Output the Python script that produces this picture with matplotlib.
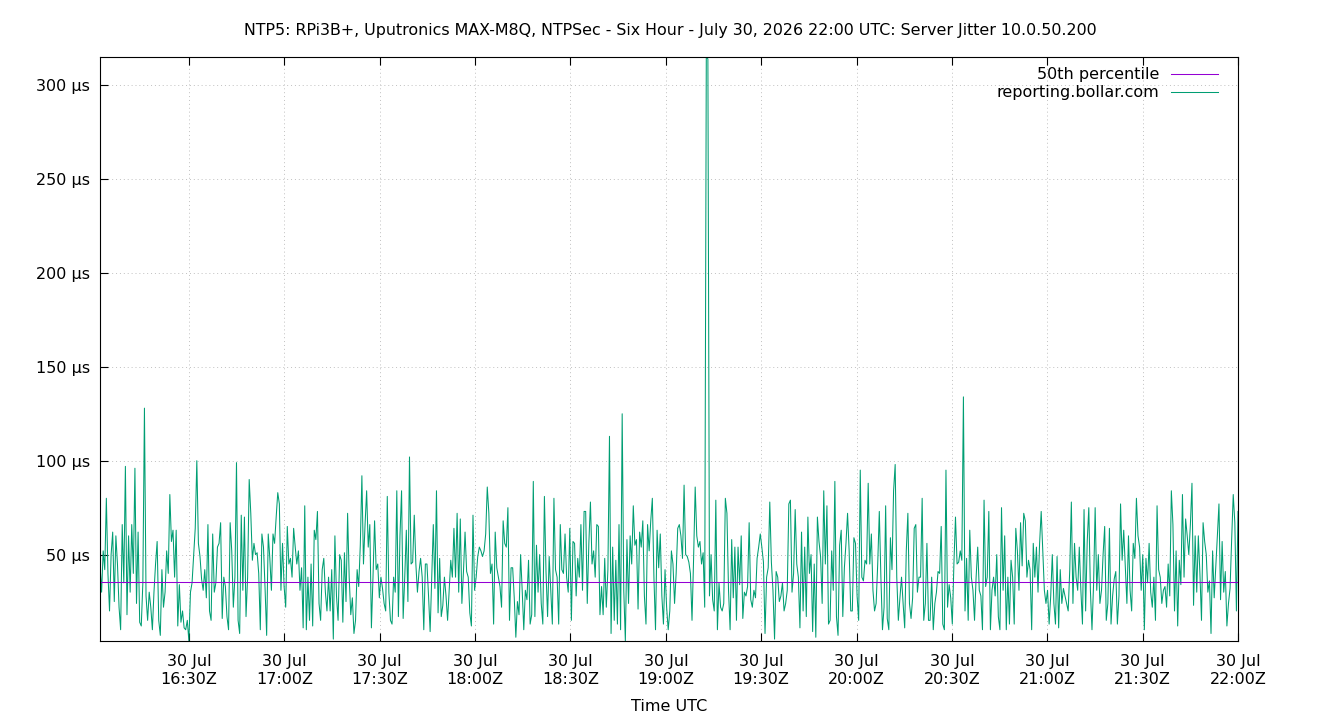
import numpy as np
import pandas as pd
import matplotlib
matplotlib.use("Agg")
import matplotlib.pyplot as plt
import matplotlib.dates as mdates

# server jitter samples (µs), 16:02Z .. 22:00Z
jitter_us = [
    45, 30, 52, 42, 80, 40, 20, 50, 62, 25, 60, 45, 22, 10, 66, 35, 97, 18, 60, 30,
    66, 40, 96, 24, 62, 14, 12, 35, 128, 28, 15, 30, 22, 10, 30, 45, 57, 15, 7, 42,
    22, 30, 52, 40, 82, 57, 63, 38, 63, 12, 34, 14, 20, 11, 10, 15, 4, 30, 35, 50,
    64, 100,
    56, 49, 37, 31, 42, 27, 66, 20, 15, 61, 30, 35, 54, 56, 67, 16, 38, 33, 17, 10,
    67, 52, 22, 38, 99, 15, 8, 71, 31, 70, 17, 38, 90, 72, 47, 56, 50, 51, 40, 10,
    61, 54, 32, 7, 61, 48, 31, 61, 56, 70, 83, 77, 31, 56, 33, 22, 65, 45, 48, 38,
    64,
    54, 45, 52, 31, 43, 11, 76, 10, 38, 15, 45, 12, 63, 58, 73, 24, 15, 42, 48, 30,
    20, 38, 20, 42, 5, 60, 28, 15, 50, 47, 14, 51, 25, 72, 38, 18, 27, 8, 15, 42,
    33, 55, 92, 45, 66, 84, 54, 66, 11, 38, 68, 42, 45, 27, 38, 32, 24, 20, 81, 30,
    15,
    13, 38, 30, 84, 17, 60, 84, 16, 38, 63, 25, 102, 45, 46, 71, 45, 30, 41, 48, 38,
    10, 45, 45, 28, 9, 38, 66, 32, 84, 19, 48, 17, 23, 38, 28, 15, 31, 47, 38, 64,
    38, 72, 30, 69, 24, 41, 62, 41, 38, 19, 12, 71, 31, 38, 49, 54, 52, 49, 52, 61,
    86,
    72, 40, 45, 13, 62, 43, 38, 33, 22, 68, 56, 54, 75, 15, 43, 43, 27, 6, 25, 18,
    50, 31, 10, 31, 26, 47, 13, 18, 89, 17, 55, 30, 50, 24, 13, 81, 41, 17, 49, 31,
    13, 80, 42, 38, 13, 66, 42, 40, 61, 38, 30, 64, 15, 57, 56, 28, 48, 38, 66, 31,
    73,
    73, 24, 56, 78, 45, 52, 38, 66, 65, 18, 33, 18, 48, 22, 42, 113, 8, 54, 15, 47,
    13, 66, 10, 125, 31, 4, 58, 24, 60, 45, 76, 55, 58, 21, 62, 54, 68, 28, 13, 66,
    52, 68, 80, 38, 10, 63, 43, 61, 28, 13, 42, 22, 10, 20, 52, 45, 24, 40, 64, 66,
    60,
    48, 87, 50, 49, 46, 40, 15, 48, 86, 60, 54, 57, 45, 51, 22, 315, 314, 28, 50, 26,
    20, 79, 10, 35, 22, 20, 24, 80, 72, 31, 10, 58, 27, 54, 15, 54, 34, 60, 16, 30,
    28, 33, 67, 26, 22, 31, 27, 48, 54, 61, 54, 46, 8, 38, 43, 78, 46, 31, 5, 41,
    38,
    25, 28, 35, 20, 24, 31, 77, 79, 30, 40, 74, 45, 38, 11, 62, 20, 54, 17, 70, 40,
    50, 9, 45, 6, 70, 57, 49, 24, 84, 45, 76, 13, 15, 52, 31, 89, 17, 7, 55, 63,
    17, 43, 56, 72, 52, 20, 20, 59, 56, 28, 15, 95, 38, 36, 47, 45, 88, 45, 61, 31,
    20,
    24, 45, 73, 38, 10, 22, 76, 16, 10, 59, 42, 84, 98, 38, 15, 27, 38, 24, 11, 52,
    72, 24, 16, 27, 64, 66, 30, 38, 38, 80, 15, 24, 56, 15, 15, 38, 10, 24, 30, 41,
    40, 65, 13, 10, 95, 22, 34, 27, 13, 45, 70, 45, 46, 52, 47, 134, 20, 48, 15, 63,
    38,
    31, 15, 38, 54, 31, 28, 10, 79, 33, 38, 73, 10, 31, 38, 28, 50, 17, 10, 75, 31,
    60, 10, 38, 13, 47, 38, 13, 64, 52, 31, 67, 44, 72, 68, 38, 47, 42, 10, 56, 38,
    54, 30, 56, 73, 52, 31, 24, 31, 13, 28, 50, 24, 13, 49, 11, 42, 24, 32, 28, 24,
    20,
    42, 78, 24, 56, 38, 31, 54, 31, 13, 74, 20, 57, 75, 31, 10, 34, 75, 31, 50, 24,
    31, 50, 65, 15, 24, 64, 13, 28, 37, 41, 13, 28, 77, 47, 63, 44, 24, 60, 31, 20,
    56, 48, 80, 60, 54, 31, 50, 10, 48, 35, 56, 30, 22, 38, 15, 76, 42, 38, 24, 31,
    33,
    22, 45, 28, 84, 66, 20, 52, 12, 47, 34, 82, 38, 69, 60, 50, 66, 88, 23, 60, 30,
    60, 40, 15, 67, 57, 50, 30, 36, 8, 52, 27, 43, 60, 77, 26, 57, 30, 41, 12, 24,
    32, 58, 82, 67, 20, 73,
]
median_us = 35.6  # 50th percentile line

start = pd.Timestamp("2026-07-30 16:02")
end = pd.Timestamp("2026-07-30 22:00")
times = pd.date_range(start, end, periods=len(jitter_us))

ytick_us = [50, 100, 150, 200, 250, 300]
xtick_times = pd.date_range("2026-07-30 16:30", "2026-07-30 22:00", freq="30min")

title = "NTP5: RPi3B+, Uputronics MAX-M8Q, NTPSec - Six Hour - July 30, 2026 22:00 UTC: Server Jitter 10.0.50.200"

plt.rcParams['font.family'] = ['DejaVu Sans']
fs = 11.5

fig = plt.figure(figsize=(13.4, 7.2), dpi=100)
ax = fig.add_axes([100 / 1340, 1 - 641 / 720, 1138 / 1340, 584 / 720])

data_line, = ax.plot(times, jitter_us, color='#009e73', lw=0.75, label='reporting.bollar.com')
med_line = ax.axhline(median_us, color='#9400d3', lw=0.75, label='50th percentile')

ax.set_xlim(start, end)
ax.set_ylim(min(jitter_us), max(jitter_us))

ax.set_yticks(ytick_us)
ax.set_yticklabels([f"{v} µs" for v in ytick_us])
ax.set_xticks(xtick_times)
ax.xaxis.set_major_formatter(mdates.DateFormatter('%d %b\n%H:%MZ'))

ax.grid(True, color='#c0c0c0', linestyle=(0, (1, 3)), linewidth=0.7)
ax.tick_params(direction='in', length=6, width=0.8, top=True, right=False, labelsize=fs)
ax.tick_params(axis='y', pad=7)
ax.tick_params(axis='x', pad=9.5)
for s in ax.spines.values():
    s.set_linewidth(0.8)

ax.set_xlabel('Time UTC', fontsize=fs)
ax.xaxis.set_label_coords(0.5, -0.1)

fig.text(0.5, 1 - 30 / 720, title, ha='center', va='center', fontsize=11.4)

ax.legend(handles=[med_line, data_line], loc='upper right', bbox_to_anchor=(0.9877, 0.9932),
          frameon=False, markerfirst=False, handlelength=2.9, handletextpad=0.75,
          labelspacing=0.18, borderaxespad=0, fontsize=fs)

fig.savefig('out.png', dpi=100)
